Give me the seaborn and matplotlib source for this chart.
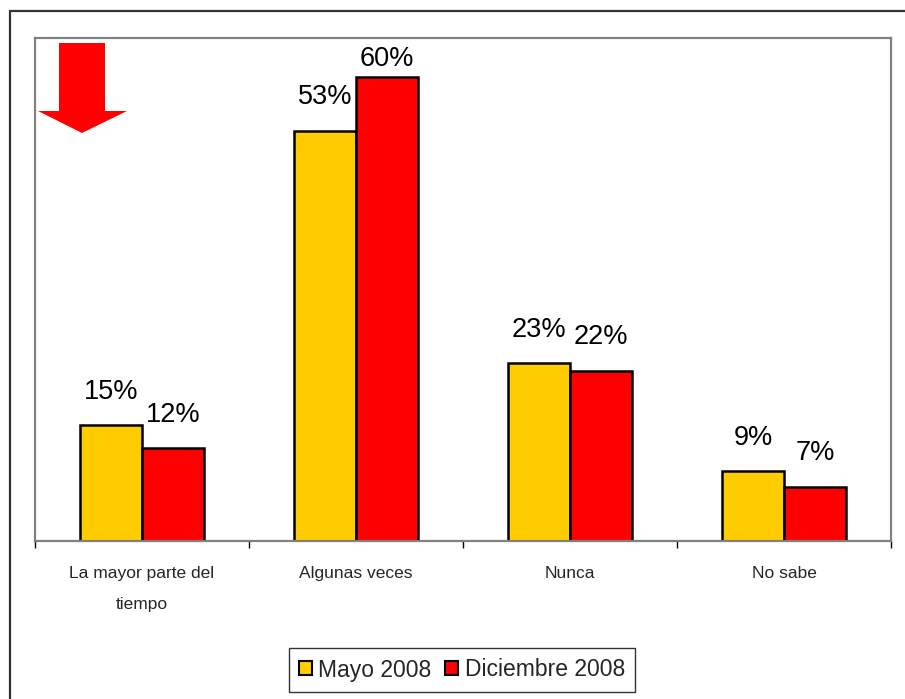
import matplotlib
matplotlib.use("Agg")
import matplotlib.pyplot as plt
from matplotlib.patches import Polygon, Rectangle
import seaborn as sns
import pandas as pd

categories = ["La mayor parte del\ntiempo", "Algunas veces", "Nunca", "No sabe"]
series_names = ["Mayo 2008", "Diciembre 2008"]
mayo = [15, 53, 23, 9]
diciembre = [12, 60, 22, 7]
colors = ["#FFCC00", "#FF0000"]

rows = []
for c, v in zip(categories, mayo):
    rows.append({"cat": c, "serie": series_names[0], "val": v})
for c, v in zip(categories, diciembre):
    rows.append({"cat": c, "serie": series_names[1], "val": v})
df = pd.DataFrame(rows)

sns.set_theme(style="white")
plt.rcParams["font.family"] = ["Liberation Sans", "DejaVu Sans"]

W, H = 905, 699
fig = plt.figure(figsize=(W / 100, H / 100), dpi=100)
ax = fig.add_axes([35 / W, 1 - 541 / H, (891 - 35) / W, (541 - 38) / H])

sns.barplot(data=df, x="cat", y="val", hue="serie", order=categories,
            hue_order=series_names, palette=colors, width=0.58,
            edgecolor="black", linewidth=1.8, saturation=1, ax=ax)

ax.set_xlim(-0.5, len(categories) - 0.5)
ax.set_ylim(0, 65)
ax.set_xlabel("")
ax.set_ylabel("")
ax.set_yticks([])

# value labels
for cont in ax.containers:
    for bar in cont:
        h = bar.get_height()
        off = 8 if h > 58 else 19
        ax.annotate(f"{h:.0f}%", (bar.get_x() + bar.get_width() / 2, h),
                    xytext=(0, off), textcoords="offset points",
                    ha="center", va="baseline", fontsize=19.5, color="black")

# spines
for s in ax.spines.values():
    s.set_visible(True)
    s.set_color("#808080")
    s.set_linewidth(1.6)

# ticks: boundaries as minor ticks
ax.set_xticks([i - 0.5 for i in range(len(categories) + 1)], minor=True)
ax.tick_params(axis="x", which="minor", length=5, width=1, color="black",
               direction="out", bottom=True)
ax.tick_params(axis="x", which="major", length=0, pad=18, labelsize=12.5)
for t in ax.get_xticklabels():
    t.set_linespacing(2.35)

# legend
handles, labels = ax.get_legend_handles_labels()
if ax.get_legend() is not None:
    ax.get_legend().remove()
leg = fig.legend(handles, labels, loc="center",
                 bbox_to_anchor=(462 / W, 1 - 670 / H), ncol=2,
                 fontsize=16.5, frameon=True, fancybox=False, shadow=False,
                 handlelength=0.55, handleheight=0.55, handletextpad=0.3,
                 columnspacing=0.6, borderpad=0.45, borderaxespad=0)
leg.get_frame().set_edgecolor("black")
leg.get_frame().set_linewidth(1.0)
for p in leg.get_patches():
    p.set_edgecolor("black")
    p.set_linewidth(1.5)

# outer border
fig.patches.append(Rectangle((10 / W, -0.1), 1.2, 1.1 - 11 / H,
                             transform=fig.transFigure, fill=False,
                             edgecolor="#333333", linewidth=1.6, zorder=0))

# red arrow decoration
pts_px = [(59, 43), (105, 43), (105, 111), (127, 111), (82, 133),
          (38, 111), (59, 111)]
pts = [(x / W, 1 - y / H) for x, y in pts_px]
fig.patches.append(Polygon(pts, closed=True, transform=fig.transFigure,
                           facecolor="#FF0000", edgecolor="none", zorder=5))

fig.savefig("out.png", dpi=100)
